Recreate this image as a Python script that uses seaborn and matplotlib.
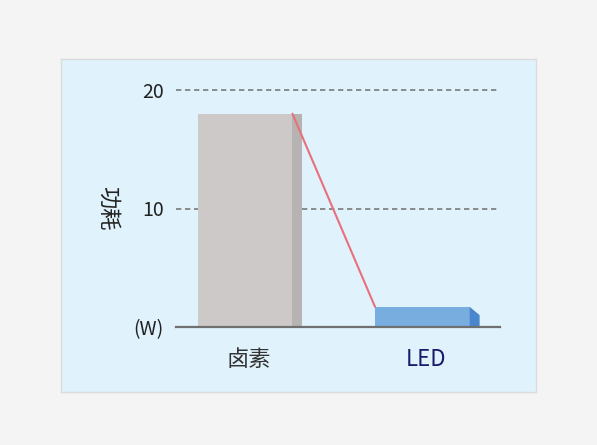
import matplotlib
matplotlib.use("Agg")
import matplotlib.pyplot as plt
import seaborn as sns
import pandas as pd

# data
categories = ["卤素", "LED"]
power_w = [18, 1.7]
tick_values = [0, 10, 20]
tick_labels = ["(W)", "10", "20"]

front_colors = ["#cdc9c8", "#78addf"]
side_colors = ["#b7b3b2", "#4a86cc"]
bevel = [0.0, 0.7]
label_colors = ["#333333", "#1b1b6b"]

sns.set_style("white")
plt.rcParams["font.family"] = ["Noto Sans CJK SC", "DejaVu Sans"]

fig = plt.figure(figsize=(5.97, 4.45), dpi=100)
fig.patch.set_facecolor("#f4f4f4")

# light blue panel behind the chart
panel = fig.add_axes([61 / 597, 1 - 392 / 445, 475 / 597, 333 / 445])
panel.set_facecolor("#e0f2fc")
panel.set_xticks([])
panel.set_yticks([])
for s in panel.spines.values():
    s.set_color("#dcdcdc")
    s.set_linewidth(1)

ax = fig.add_axes([176 / 597, 1 - 327 / 445, 324 / 597, 237 / 445])
ax.set_facecolor("none")

df = pd.DataFrame({"cat": categories, "power": power_w})
front_w = 0.534
side = 0.056

sns.barplot(data=df, x="cat", y="power", hue="cat", palette=front_colors,
            width=front_w, legend=False, ax=ax, saturation=1, zorder=2,
            linewidth=0, edgecolor="none")

# darker side strip on the right of each bar (LED one has a bevelled top)
for i, v in enumerate(power_w):
    xl = i + front_w / 2
    ax.fill([xl, xl, xl + side, xl + side], [0, v, v - bevel[i], 0],
            color=side_colors[i], lw=0, zorder=3)

# red connecting line from halogen top to LED top
ax.plot([0 + front_w / 2, 1 - front_w / 2], power_w, color="#e9707a",
        lw=1.5, zorder=4)

ax.set_xlim(-0.39, 1.438)
ax.set_ylim(0, 20)
ax.set_yticks(tick_values)
ax.set_yticklabels(tick_labels, fontsize=14, color="#222222")
for v in tick_values[1:]:
    ax.axhline(v, xmax=0.99, color="#7a7a7a", ls=(0, (3.2, 2.2)), lw=1.2,
               zorder=1, clip_on=False)

ax.tick_params(axis="y", length=0, pad=9)
ax.tick_params(axis="x", length=0, pad=15)
ax.set_xticks([i + side / 3 for i in range(len(categories))])
ax.set_xticklabels(categories, fontsize=16)
for lbl, c in zip(ax.get_xticklabels(), label_colors):
    lbl.set_color(c)

ax.set_xlabel("")
ax.set_ylabel("功耗", fontsize=16, color="#222222", labelpad=18,
              rotation=270, va="center")

for s in ["top", "right", "left"]:
    ax.spines[s].set_visible(False)
ax.spines["bottom"].set_color("#707070")
ax.spines["bottom"].set_linewidth(1.6)
ax.spines["bottom"].set_zorder(5)

fig.savefig("out.png", dpi=100, facecolor=fig.get_facecolor())
